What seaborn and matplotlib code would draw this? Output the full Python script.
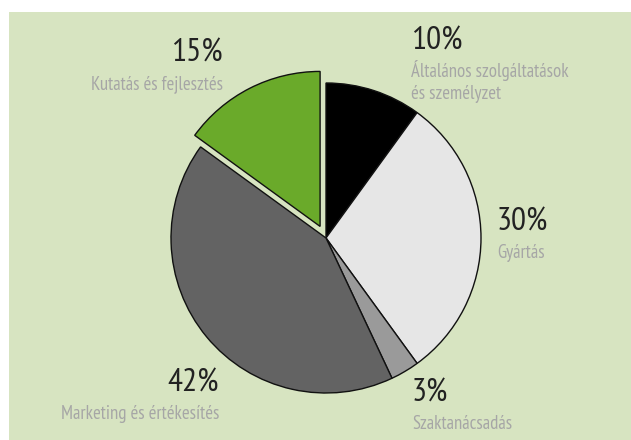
import matplotlib
matplotlib.use('Agg')
import matplotlib.pyplot as plt
import seaborn as sns
from matplotlib.patches import Rectangle

sns.set_style('white')
plt.rcParams['font.family'] = ['PT Sans Narrow', 'DejaVu Sans']

# data, clockwise from 12 o'clock
categories = ['Általános szolgáltatások\nés személyzet', 'Gyártás', 'Szaktanácsadás',
              'Marketing és értékesítés', 'Kutatás és fejlesztés']
shares = [10, 30, 3, 42, 15]
colors = ['#000000', '#e6e6e6', '#9a9a9a', '#636363', '#6aaa2a']
explode = [0, 0, 0, 0, 13]

# label anchor (pixel x, pixel y of top of percent), alignment
label_pos = [(411, 27, 'left'), (497, 208, 'left'), (412, 379, 'left'),
             (219, 369, 'right'), (223, 39, 'right')]

W, H = 631, 440
fig = plt.figure(figsize=(W / 100, H / 100), dpi=100)
fig.patches.append(Rectangle((9 / W, 0), 1, (H - 12) / H, transform=fig.transFigure,
                             facecolor='#d7e4c1', edgecolor='none', zorder=-1))
ax = fig.add_axes([0, 0, 1, 1])
ax.patch.set_alpha(0)

ax.pie(shares, colors=colors, explode=explode, startangle=90, counterclock=False,
       center=(326, H - 238), radius=155,
       wedgeprops=dict(edgecolor='#111111', linewidth=1.0))
ax.set_xlim(0, W)
ax.set_ylim(0, H)
ax.set_aspect('equal')
ax.axis('off')

for cat, val, (x, y, ha) in zip(categories, shares, label_pos):
    ax.text(x, H - y, f'{val}%', ha=ha, va='top', fontsize=24, color='#222222')
    # category lines: baselines ~50 px below the percent top, 22 px apart
    for i, line in enumerate(cat.split('\n')):
        ax.text(x, H - y - 50 - 22 * i, line, ha=ha, va='baseline', fontsize=13.5,
                color='#a6a6a6')

fig.savefig('out.png', dpi=100)
